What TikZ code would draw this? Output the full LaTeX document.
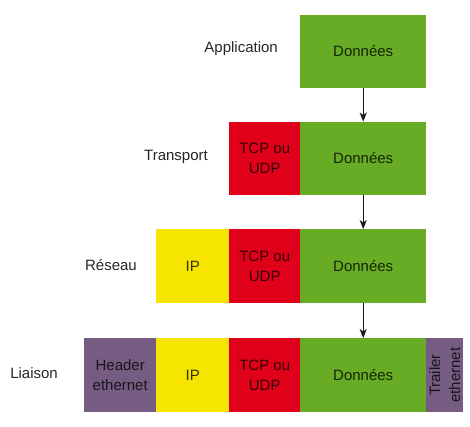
\documentclass[tikz,border=0pt]{standalone}
\usepackage{fontspec}
\setmainfont{Liberation Sans}
\usetikzlibrary{arrows.meta}

\definecolor{datagreen}{HTML}{67AC24}
\definecolor{tcpred}{HTML}{E1001A}
\definecolor{ipyellow}{HTML}{F6E500}
\definecolor{ethpurple}{HTML}{765C82}
\definecolor{labelgray}{HTML}{262626}

\begin{document}
\begin{tikzpicture}[x=1pt,y=-1pt,
  every node/.style={font=\fontsize{15}{20}\selectfont},
  field/.style={rectangle, inner sep=0pt, minimum height=73.5pt,
    anchor=west, align=center, text=black, text opacity=0.78},
  datafield/.style={field, fill=datagreen, minimum width=126pt},
  tcpfield/.style={field, fill=tcpred, minimum width=71pt},
  ipfield/.style={field, fill=ipyellow, minimum width=73pt},
  headfield/.style={field, fill=ethpurple, minimum width=72pt},
  tailfield/.style={field, fill=ethpurple, minimum width=37pt},
  layer/.style={text=labelgray, anchor=east, inner sep=0pt},
  flow/.style={line width=1.1pt, draw=black!90,
    -{Stealth[length=9pt,width=7pt,inset=2.5pt]}}]

\useasboundingbox (0,0) rectangle (470,426);

% Application layer
\node[datafield] (appdata) at (300,51.5) {Données};
\node[layer] (applbl) at (278,49) {Application};

% Transport layer
\node[tcpfield] (trtcp) at (229,158.5) {TCP ou\\UDP};
\node[datafield] (trdata) at (300,158.5) {Données};
\node[layer] (trlbl) at (208,157) {Transport};

% Network layer
\node[ipfield] (netip) at (156,266) {IP};
\node[tcpfield] (nettcp) at (229,266) {TCP ou\\UDP};
\node[datafield] (netdata) at (300,266) {Données};
\node[layer] (netlbl) at (137,265) {Réseau};

% Link layer
\node[headfield] (linkhead) at (84,375) {Header\\ethernet};
\node[ipfield] (linkip) at (156,375) {IP};
\node[tcpfield] (linktcp) at (229,375) {TCP ou\\UDP};
\node[datafield] (linkdata) at (300,375) {Données};
\node[tailfield] (linktail) at (426,375) {};
\node[rotate=90, align=center, text=black, text opacity=0.78,
  inner sep=0pt] (tailtxt) at (linktail.center) {Trailer\\ethernet};
\node[layer] (linklbl) at (58,373) {Liaison};

% Encapsulation arrows
\draw[flow] (appdata.south) -- (trdata.north);
\draw[flow] (trdata.south) -- (netdata.north);
\draw[flow] (netdata.south) -- (linkdata.north);

\end{tikzpicture}
\end{document}
